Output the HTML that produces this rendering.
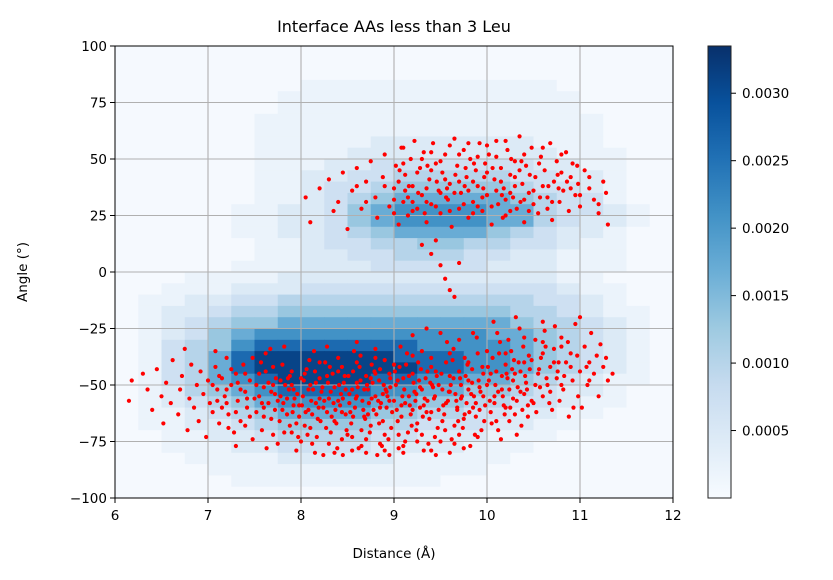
<!DOCTYPE html>
<html><head><meta charset="utf-8">
<style>
html,body{margin:0;padding:0;background:#fff;}
svg{display:block;font-family:"DejaVu Sans","Liberation Sans",sans-serif;}
</style></head>
<body>
<svg id="chart" width="833" height="580" viewBox="0 0 833 580" xmlns="http://www.w3.org/2000/svg">
<rect width="833" height="580" fill="#fff"/>
<text x="394" y="32" text-anchor="middle" font-size="16" fill="#000">Interface AAs less than 3 Leu</text>
<g id="heat"></g>
<g id="grid"></g>
<g id="pts"></g>
<rect x="115" y="46" width="558" height="452" fill="none" stroke="#000" stroke-width="1"/>
<g id="axes"></g>
<text x="394" y="558" text-anchor="middle" font-size="13.5">Distance (Å)</text>
<text transform="translate(27,272) rotate(-90)" text-anchor="middle" font-size="13.5">Angle (°)</text>
<defs><linearGradient id="cbg" x1="0" y1="1" x2="0" y2="0">
<stop offset="0" stop-color="#f7fbff"/><stop offset="0.125" stop-color="#deebf7"/><stop offset="0.25" stop-color="#c6dbef"/><stop offset="0.375" stop-color="#9ecae1"/><stop offset="0.5" stop-color="#6baed6"/><stop offset="0.625" stop-color="#4292c6"/><stop offset="0.75" stop-color="#2171b5"/><stop offset="0.875" stop-color="#08519c"/><stop offset="1" stop-color="#08306b"/>
</linearGradient></defs>
<rect x="708" y="46" width="23" height="452" fill="url(#cbg)" stroke="#222" stroke-width="1"/>
<g id="cbar"></g>
</svg>
<script>
const xTicks = [6,7,8,9,10,11,12];
const yTicks = [100,75,50,25,0,-25,-50,-75,-100];
const cbTicks = [0.0005,0.0010,0.0015,0.0020,0.0025,0.0030];
const cbTickLabels = ["0.0005","0.0010","0.0015","0.0020","0.0025","0.0030"];
const heatX0 = 6, heatDX = 0.25, heatY0 = 100, heatDY = 5;
const heatLevelValues = [0.00004,0.00020,0.00045,0.00070,0.00100,0.00130,0.00170,0.00210,0.00260,0.00310];
const heatRows = [
"000000000000000000000000","000000000000000000000000","000000000000000000000000",
"000000001111111111100000","000000011111111111110000","000000011111111111110000",
"000000111111111111111000","000000111111111111111000","000000111112222222111000",
"000000111122222222211100","000000111223333333221100","000000112233444443322100",
"000000112334555554332100","000000112345666665433100","000001122356777766433210",
"000001122356777766432210","000001122345666654322100","000000112334455443321100",
"000000112233444332211100","000001112223333322211100","000111122222222222211000",
"001112223333333333321100","011223344444444444332100","012234455555555554432110",
"012345566666666665443210","012356777777777766543210","013457888888877776543210",
"013468999999888776543210","013468999999988776543210","013467899998877665432110",
"012456788887766554322100","012345677776655443321100","011234566665544332211000",
"011223455554433322110000","001122344443322211100000","001112233332222111000000",
"000111122222111110000000","000011111111111100000000","000001111111110000000000",
"000000000000000000000000"];
const upperPoints = "8.05,33 8.1,22 8.2,37 8.3,41 8.35,27 8.4,31 8.45,44 8.5,19 8.55,36 8.6,46 8.65,28 8.7,40 8.75,49 8.8,33 8.82,24 8.88,42 8.9,52 8.95,29 9.0,37 9.02,47 9.05,21 9.08,55 9.1,31 9.12,43 9.15,25 9.18,50 9.2,38 9.22,58 9.25,28 9.28,46 9.3,34 9.32,53 9.35,22 9.38,41 9.4,30 9.42,57 9.45,48 9.48,36 9.5,26 9.52,44 9.55,52 9.58,32 9.6,39 9.62,20 9.65,59 9.68,47 9.7,28 9.72,35 9.75,54 9.78,42 9.8,24 9.82,50 9.85,31 9.88,45 9.9,38 9.92,57 9.95,27 9.98,48 10.0,34 10.02,52 10.05,21 10.08,41 10.1,58 10.12,30 10.15,46 10.18,37 10.2,25 10.22,54 10.25,43 10.28,33 10.3,49 10.32,28 10.35,60 10.38,39 10.4,22 10.42,47 10.45,35 10.48,55 10.5,30 10.52,42 10.55,26 10.58,51 10.6,38 10.62,45 10.65,33 10.68,57 10.7,23 10.72,40 10.75,49 10.78,31 10.8,44 10.82,36 10.85,53 10.88,27 10.9,42 10.92,48 10.95,34 10.98,39 11.0,29 11.05,45 11.1,37 11.15,32 11.2,26 11.25,40 11.3,21 11.28,35 9.05,40 9.15,33 9.25,44 9.35,37 9.45,29 9.55,41 9.65,35 9.75,30 9.85,40 9.95,33 10.05,29 10.15,40 10.25,35 10.35,45 10.45,27 9.1,48 9.3,50 9.5,49 9.7,52 9.9,51 10.1,51 10.3,38 9.2,27 9.4,45 9.6,27 9.8,36 10.0,44 10.2,32 10.4,32 9.0,26 9.12,36 9.33,26 9.57,37 9.77,46 9.97,42 10.17,24 10.37,49 10.57,33 10.77,37 10.97,47 9.4,8 9.5,3 9.55,-3 9.6,-8 9.45,14 9.65,-11 9.3,12 9.7,4 9.06,45 9.16,38 9.26,35 9.36,47 9.46,40 9.56,33 9.66,43 9.76,38 9.86,48 9.96,37 10.06,46 10.16,34 10.26,50 10.36,31 10.46,43 10.56,48 10.66,38 10.76,43 10.86,40 9.1,55 9.4,53 9.6,56 9.8,57 10.0,56 10.2,58 10.4,52 10.6,55 10.8,52 9.2,31 9.5,35 9.7,40 9.9,29 10.1,36 10.3,42 10.5,36 10.7,31 10.9,37 11.1,42 8.9,38 8.7,31 8.6,38 9.0,32 9.35,31 9.85,26 10.25,27 10.65,28 11.0,34 11.2,30";
const lowerPoints = "6.15,-57 6.18,-48 6.3,-45 6.35,-52 6.4,-61 6.45,-43 6.5,-55 6.52,-67 6.55,-49 6.6,-58 6.62,-39 6.68,-63 6.7,-52 6.72,-46 6.78,-70 6.8,-56 6.82,-41 6.85,-60 6.88,-50 6.9,-66 6.92,-44 6.95,-54 6.98,-73 7.0,-48 6.75,-34 7.02,-58 7.05,-62 7.08,-42 7.1,-52 7.12,-67 7.15,-47 7.18,-55 7.2,-38 7.22,-63 7.25,-50 7.28,-71 7.3,-45 7.32,-57 7.35,-66 7.38,-41 7.4,-53 7.42,-60 7.45,-48 7.48,-74 7.5,-56 7.05,-50 7.15,-60 7.25,-43 7.35,-52 7.45,-64 7.12,-46 7.22,-69 7.32,-49 7.42,-56 7.48,-38 7.08,-35 7.3,-77 7.2,-58 7.4,-45 7.52,-62 7.55,-45 7.58,-70 7.6,-51 7.62,-36 7.65,-58 7.68,-65 7.7,-42 7.72,-54 7.75,-76 7.78,-48 7.8,-61 7.82,-33 7.85,-56 7.88,-68 7.9,-44 7.92,-52 7.95,-79 7.98,-59 8.0,-47 7.55,-55 7.6,-64 7.65,-49 7.7,-72 7.75,-57 7.8,-41 7.85,-63 7.9,-50 7.95,-67 7.52,-50 7.58,-58 7.62,-44 7.68,-53 7.72,-61 7.78,-55 7.82,-71 7.88,-46 7.92,-59 7.98,-64 7.57,-40 7.67,-34 7.77,-66 7.87,-52 7.97,-73 7.63,-78 7.73,-47 7.83,-50 7.93,-56 8.02,-55 8.04,-68 8.06,-43 8.08,-61 8.1,-50 8.12,-76 8.14,-35 8.16,-58 8.18,-65 8.2,-47 8.22,-53 8.24,-81 8.26,-40 8.28,-62 8.3,-56 8.32,-71 8.34,-45 8.36,-51 8.38,-67 8.4,-38 8.42,-59 8.44,-74 8.46,-49 8.48,-63 8.03,-48 8.07,-72 8.11,-57 8.15,-44 8.19,-60 8.23,-51 8.27,-69 8.31,-42 8.35,-58 8.39,-78 8.43,-54 8.47,-46 8.05,-62 8.13,-52 8.21,-66 8.29,-49 8.37,-61 8.45,-56 8.09,-39 8.17,-73 8.25,-57 8.33,-64 8.41,-50 8.49,-70 8.01,-59 8.28,-33 8.36,-80 8.44,-42 8.52,-54 8.54,-67 8.56,-44 8.58,-60 8.6,-49 8.62,-78 8.64,-37 8.66,-57 8.68,-64 8.7,-46 8.72,-52 8.74,-71 8.76,-41 8.78,-61 8.8,-55 8.82,-81 8.84,-48 8.86,-58 8.88,-66 8.9,-39 8.92,-53 8.94,-74 8.96,-47 8.98,-62 8.51,-46 8.55,-73 8.59,-56 8.63,-42 8.67,-61 8.71,-50 8.75,-68 8.79,-44 8.83,-57 8.87,-77 8.91,-52 8.95,-45 8.53,-62 8.61,-51 8.69,-65 8.77,-49 8.85,-60 8.93,-55 8.57,-35 8.65,-70 8.73,-58 8.81,-63 8.89,-50 8.97,-69 8.6,-31 8.8,-34 8.7,-80 8.9,-79 8.55,-52 8.75,-47 8.85,-43 8.95,-57 9.02,-50 9.04,-66 9.06,-42 9.08,-59 9.1,-47 9.12,-75 9.14,-36 9.16,-55 9.18,-63 9.2,-45 9.22,-53 9.24,-70 9.26,-40 9.28,-60 9.3,-52 9.32,-79 9.34,-47 9.36,-57 9.38,-65 9.4,-38 9.42,-51 9.44,-73 9.46,-46 9.48,-61 9.01,-44 9.05,-72 9.09,-55 9.13,-41 9.17,-59 9.21,-49 9.25,-67 9.29,-43 9.33,-56 9.37,-76 9.41,-50 9.45,-44 9.03,-61 9.11,-52 9.19,-68 9.27,-48 9.35,-62 9.43,-56 9.07,-33 9.15,-71 9.23,-57 9.31,-64 9.39,-49 9.47,-69 9.2,-28 9.35,-25 9.1,-80 9.45,-81 9.5,-27 9.3,-35 9.52,-52 9.54,-63 9.56,-40 9.58,-57 9.6,-46 9.62,-74 9.64,-34 9.66,-54 9.68,-61 9.7,-44 9.72,-50 9.74,-69 9.76,-38 9.78,-58 9.8,-48 9.82,-77 9.84,-43 9.86,-55 9.88,-64 9.9,-36 9.92,-51 9.94,-70 9.96,-45 9.98,-59 9.51,-45 9.55,-70 9.59,-53 9.63,-39 9.67,-57 9.71,-47 9.75,-65 9.79,-41 9.83,-54 9.87,-72 9.91,-48 9.95,-42 9.53,-59 9.61,-50 9.69,-66 9.77,-46 9.85,-60 9.93,-53 9.57,-31 9.65,-68 9.73,-55 9.81,-62 9.89,-29 9.97,-66 9.7,-30 9.85,-27 9.6,-80 9.75,-78 10.02,-48 10.04,-62 10.06,-38 10.08,-55 10.1,-44 10.12,-70 10.14,-31 10.16,-52 10.18,-59 10.2,-41 10.22,-47 10.24,-66 10.26,-35 10.28,-56 10.3,-45 10.32,-72 10.34,-40 10.36,-53 10.38,-61 10.4,-29 10.42,-49 10.44,-64 10.46,-43 10.48,-57 10.01,-42 10.05,-67 10.09,-50 10.13,-36 10.17,-55 10.21,-45 10.25,-60 10.29,-39 10.33,-51 10.37,-68 10.41,-46 10.45,-37 10.03,-57 10.11,-27 10.19,-63 10.27,-43 10.35,-25 10.43,-52 10.07,-22 10.23,-30 10.39,-33 10.15,-74 10.31,-20 10.52,-30 10.55,-45 10.58,-38 10.6,-55 10.62,-26 10.65,-50 10.68,-42 10.7,-61 10.72,-34 10.75,-47 10.78,-57 10.8,-29 10.82,-52 10.85,-40 10.88,-64 10.9,-36 10.92,-48 10.95,-23 10.98,-55 11.0,-44 11.02,-60 11.05,-33 11.08,-50 11.1,-40 11.12,-27 11.15,-45 11.18,-37 11.2,-55 11.25,-42 11.3,-48 11.35,-45 11.28,-38 10.53,-62 10.57,-51 10.63,-33 10.67,-58 10.73,-24 10.77,-40 10.83,-46 10.87,-31 10.93,-60 10.97,-37 11.07,-42 11.22,-32 10.6,-22 11.0,-20 7.81,-58 7.86,-47 7.91,-62 7.96,-54 8.04,-45 8.08,-52 8.12,-63 8.16,-49 8.2,-56 8.24,-60 8.28,-46 8.32,-53 8.36,-66 8.4,-57 8.44,-62 8.48,-52 8.52,-58 8.56,-64 8.6,-55 8.64,-48 8.68,-52 8.72,-63 8.76,-56 8.8,-45 8.84,-67 8.88,-54 8.92,-60 8.96,-51 9.0,-57 9.04,-48 9.08,-64 9.12,-58 9.16,-46 9.2,-61 9.24,-54 9.28,-51 9.32,-59 9.36,-44 9.4,-62 9.44,-55 9.48,-50 9.52,-66 9.56,-58 9.6,-53 9.64,-47 9.68,-60 9.72,-56 9.76,-63 9.8,-52 9.84,-49 9.88,-58 9.92,-61 9.96,-55 10.0,-50 10.04,-45 10.08,-58 10.12,-53 10.16,-46 10.2,-60 10.24,-52 10.28,-48 10.32,-57 10.36,-44 10.4,-54 10.44,-59 10.48,-39 10.52,-50 10.56,-43 10.6,-36 10.64,-47 10.68,-53 10.72,-40 10.76,-44 10.8,-50 8.3,-76 8.5,-72 8.7,-74 8.9,-72 9.1,-77 9.3,-72 9.5,-75 9.7,-72 8.1,-69 8.0,-75 7.9,-71 8.45,-81 8.65,-77 8.85,-76 9.05,-78 9.25,-75 9.4,-79 9.65,-76 9.9,-73 10.1,-66 10.3,-63 10.5,-58 8.2,-40 8.4,-44 8.6,-40 8.8,-38 9.0,-41 9.2,-37 9.4,-42 9.6,-36 9.8,-40 10.0,-35 10.2,-36 10.4,-40 10.6,-31 10.8,-33 10.9,-42 11.1,-48 7.6,-60 7.7,-50 7.4,-68 7.3,-62 7.2,-52 7.1,-57 8.15,-80 8.55,-79 8.95,-81";

const NS = "http://www.w3.org/2000/svg";
const PX0=115, PX1=673, PY0=46, PY1=498;
function xs(v){return PX0+(v-6)/6*(PX1-PX0);}
function ys(v){return PY1-(v+100)/200*(PY1-PY0);}
const CB_MAX=0.00335, CB_TOP=46, CB_BOT=498;
function cbs(v){return CB_BOT-v/CB_MAX*(CB_BOT-CB_TOP);}
const stops=[[247,251,255],[222,235,247],[198,219,239],[158,202,225],[107,174,214],[66,146,198],[33,113,181],[8,81,156],[8,48,107]];
function blues(t){t=Math.max(0,Math.min(1,t))*8;const i=Math.min(7,Math.floor(t)),f=t-i;const a=stops[i],b=stops[i+1];
return "rgb("+a.map((c,k)=>Math.round(c+(b[k]-c)*f)).join(",")+")";}
function mk(tag,attrs,parent){const e=document.createElementNS(NS,tag);for(const k in attrs)e.setAttribute(k,attrs[k]);parent.appendChild(e);return e;}

const heat=document.getElementById('heat');
heatRows.forEach((row,r)=>{
  for(let c=0;c<row.length;c++){
    const v=heatLevelValues[+row[c]];
    const x0=xs(heatX0+c*heatDX), x1=xs(heatX0+(c+1)*heatDX);
    const y0=ys(heatY0-r*heatDY), y1=ys(heatY0-(r+1)*heatDY);
    const e=mk('rect',{x:x0,y:y0,width:x1-x0+0.5,height:y1-y0+0.5,fill:blues(v/CB_MAX)},heat);
    
    
  }
});
const grid=document.getElementById('grid');
xTicks.slice(1,-1).forEach(t=>{const e=mk('line',{x1:xs(t),x2:xs(t),y1:PY0,y2:PY1,stroke:'#b0b0b0','stroke-width':1.1},grid);

});
yTicks.slice(1,-1).forEach(t=>{const e=mk('line',{x1:PX0,x2:PX1,y1:ys(t),y2:ys(t),stroke:'#b0b0b0','stroke-width':1.1},grid);

});

const pts=document.getElementById('pts');
(upperPoints+" "+lowerPoints).split(" ").forEach(s=>{
  const [a,b]=s.split(",").map(Number);
  const e=mk('circle',{cx:xs(a),cy:ys(b),r:2.1,fill:'#ff0000'},pts);
  
  
});

const axes=document.getElementById('axes');
xTicks.forEach(t=>{
  mk('line',{x1:xs(t),x2:xs(t),y1:PY1,y2:PY1+5,stroke:'#000'},axes);
  const e=mk('text',{x:xs(t),y:PY1+22,'text-anchor':'middle','font-size':13.5},axes);
  e.textContent=t;
  
  
});
yTicks.forEach(t=>{
  mk('line',{x1:PX0-5,x2:PX0,y1:ys(t),y2:ys(t),stroke:'#000'},axes);
  const e=mk('text',{x:PX0-8,y:ys(t)+5,'text-anchor':'end','font-size':13.5},axes);
  e.textContent=(t<0?"\u2212"+(-t):t);
  
  
});
const cbar=document.getElementById('cbar');
cbTicks.forEach((t,i)=>{
  mk('line',{x1:731,x2:736,y1:cbs(t),y2:cbs(t),stroke:'#000'},cbar);
  const e=mk('text',{x:742,y:cbs(t)+5,'font-size':13.5},cbar);
  e.textContent=cbTickLabels[i];
  
  
});
</script>
</body></html>
